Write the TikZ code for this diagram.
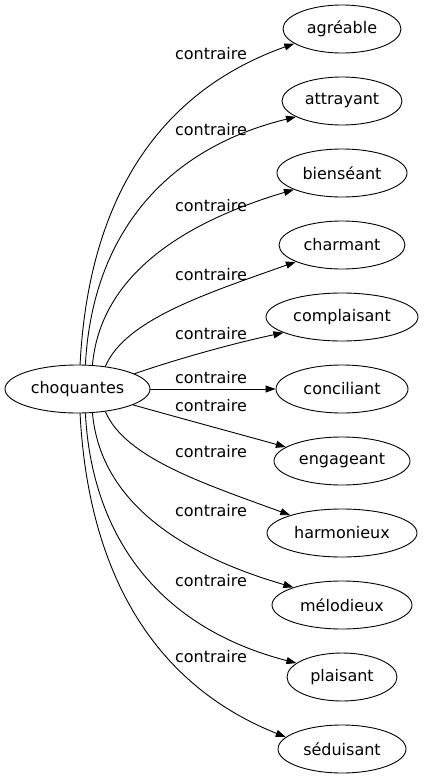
\documentclass[tikz,border=0pt]{standalone}
\usepackage{fontspec}
\setmainfont{DejaVu Sans}
\usetikzlibrary{shapes.geometric,arrows.meta}
\begin{document}
\begin{tikzpicture}[x=1pt,y=-1pt,
  every node/.style={font=\fontsize{16}{19}\selectfont},
  word/.style={draw, ellipse, minimum height=48pt, inner sep=0pt, line width=0.9pt},
  lab/.style={inner sep=0pt},
  rel/.style={-{Triangle[length=10pt,width=7pt]}, line width=0.9pt}]
\useasboundingbox (0,0) rectangle (424,779);
\node[word, minimum width=145pt] (c) at (77.5,389) {choquantes};
\node[word, minimum width=118pt] (n1) at (342,29) {agréable};
\node[word, minimum width=120pt] (n2) at (342,101) {attrayant};
\node[word, minimum width=130pt] (n3) at (342,173) {bienséant};
\node[word, minimum width=126pt] (n4) at (342,245) {charmant};
\node[word, minimum width=152pt] (n5) at (342,317) {complaisant};
\node[word, minimum width=132pt] (n6) at (342,389) {conciliant};
\node[word, minimum width=136pt] (n7) at (342,461) {engageant};
\node[word, minimum width=150pt] (n8) at (342,533) {harmonieux};
\node[word, minimum width=140pt] (n9) at (342,605) {mélodieux};
\node[word, minimum width=110pt] (n10) at (342,677) {plaisant};
\node[word, minimum width=128pt] (n11) at (342,749) {séduisant};

\node[lab] (l1) at (211,54) {contraire};
\node[lab] (l2) at (211,130) {contraire};
\node[lab] (l3) at (211,206) {contraire};
\node[lab] (l4) at (211,275) {contraire};
\node[lab] (l5) at (211,334) {contraire};
\node[lab] (l6) at (211,378) {contraire};
\node[lab] (l7) at (211,406) {contraire};
\node[lab] (l8) at (211,452) {contraire};
\node[lab] (l9) at (211,511) {contraire};
\node[lab] (l10) at (211,581) {contraire};
\node[lab] (l11) at (211,657) {contraire};

\draw[rel] (c.84) .. controls (88,210) and (150,95) .. (n1.197);
\draw[rel] (c.72) .. controls (92,240) and (160,150) .. (n2.199);
\draw[rel] (c.58) .. controls (100,280) and (175,225) .. (n3.199);
\draw[rel] (c.39) .. controls (125,320) and (205,294) .. (n4.200);
\draw[rel] (c.15.5) .. controls (180,358) and (235,343) .. (n5.195);
\draw[rel] (c.0) -- (n6.180);
\draw[rel] (c.344.5) .. controls (180,418) and (235,433) .. (n7.166);
\draw[rel] (c.321) .. controls (125,458) and (205,484) .. (n8.161);
\draw[rel] (c.302) .. controls (100,498) and (175,553) .. (n9.160);
\draw[rel] (c.288) .. controls (92,538) and (160,628) .. (n10.163);
\draw[rel] (c.276) .. controls (88,568) and (150,683) .. (n11.168);
\end{tikzpicture}
\end{document}
